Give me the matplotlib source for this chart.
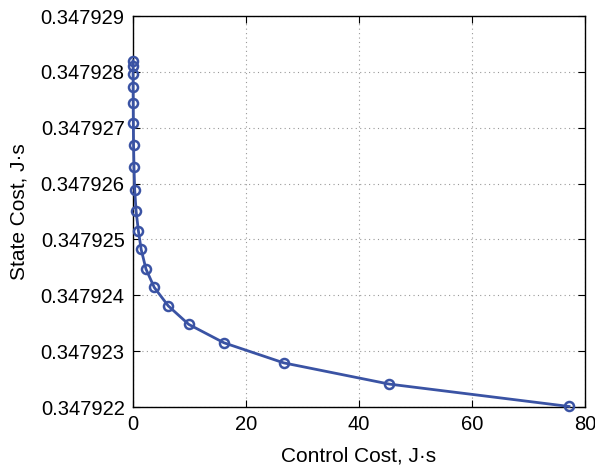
import numpy as np
import matplotlib.pyplot as plt
from matplotlib.ticker import FormatStrFormatter

control_cost = [0.005, 0.008, 0.013, 0.022, 0.037, 0.06, 0.10, 0.18, 0.30, 0.55,
                0.95, 1.45, 2.3, 3.77, 6.25, 9.86, 16.1, 26.7, 45.4, 77.2]
state_cost = [0.3479282, 0.3479281, 0.34792796, 0.34792773, 0.34792744,
              0.34792708, 0.34792669, 0.3479263, 0.34792589, 0.34792551,
              0.34792516, 0.34792482, 0.34792447, 0.34792414, 0.34792381,
              0.34792348, 0.34792315, 0.34792279, 0.34792241, 0.34792201]
y_ticks = [0.347922, 0.347923, 0.347924, 0.347925, 0.347926, 0.347927, 0.347928, 0.347929]
x_ticks = [0, 20, 40, 60, 80]

plt.rcParams['font.family'] = ['Liberation Sans', 'DejaVu Sans']

fig = plt.figure(figsize=(5.95, 4.68), dpi=100)
ax = fig.add_axes([0.2235, 0.1303, 0.7595, 0.8355])

ax.plot(control_cost, state_cost, color='#3a53a4', lw=2, marker='o', ms=6.5,
        mfc='none', mec='#3a53a4', mew=1.8, clip_on=False, zorder=3)

ax.set_xlim(0, 80)
ax.set_ylim(0.347922, 0.347929)
ax.set_xticks(x_ticks)
ax.set_yticks(y_ticks)
ax.yaxis.set_major_formatter(FormatStrFormatter('%.6f'))
ax.grid(True, ls=(0, (1, 3)), color='#999999', lw=0.8)
ax.tick_params(direction='in', top=True, right=True, labelsize=14.5, length=5, pad=6)
for s in ax.spines.values():
    s.set_linewidth(1.0)

ax.set_xlabel('Control Cost, J·s', fontsize=15, labelpad=9)
ax.set_ylabel('State Cost, J·s', fontsize=15, labelpad=9)

plt.savefig('out.png', dpi=100)
plt.close()
